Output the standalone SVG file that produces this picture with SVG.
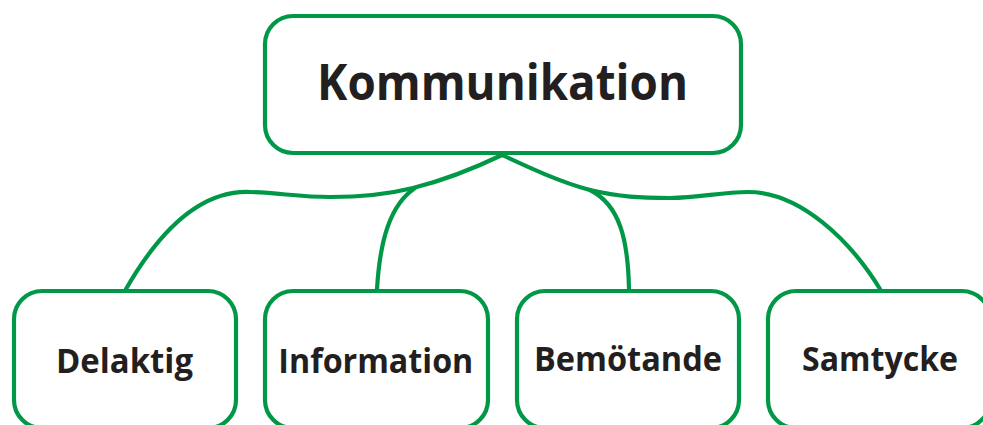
<svg xmlns="http://www.w3.org/2000/svg" width="983" height="425" viewBox="0 0 983 425">
<style>
.box{fill:#fff;stroke:#009846;stroke-width:4.2}
.con{fill:none;stroke:#009846;stroke-width:4.2;stroke-linecap:round}
.t{font-family:"Open Sans","Noto Sans","Liberation Sans",sans-serif;font-weight:700;fill:#231f20;text-anchor:middle}
.big{font-size:50px}
.small{font-size:34px}
</style>
<rect width="983" height="425" fill="#fff"/>
<g id="connectors">
<path class="con" d="M126,289 C160,230 200,190 250,192 C280,193 300,197 330,197 C370,197 393,193 413,188 C445,180 475,168 502,155"/>
<path class="con" d="M377,289 C380,240 390,205 415,188"/>
<path class="con" d="M502,155 C530,168 560,182 590,190 C620,197 640,198 670,198 C700,198 720,192 748,192 C800,192 850,240 880,289"/>
<path class="con" d="M629,289 C628,240 620,205 590,190"/>
</g>
<g id="kommunikation">
<rect class="box" x="265" y="16" width="476" height="137" rx="28"/>
<text class="t big" x="502.5" y="99.5" textLength="371" lengthAdjust="spacingAndGlyphs">Kommunikation</text>
</g>
<g id="delaktig">
<rect class="box" x="14" y="291" width="222" height="137" rx="28"/>
<text class="t small" x="124.5" y="372.5" textLength="137" lengthAdjust="spacingAndGlyphs">Delaktig</text>
</g>
<g id="information">
<rect class="box" x="265" y="291" width="223" height="137" rx="28"/>
<text class="t small" x="375.8" y="372.5" textLength="195" lengthAdjust="spacingAndGlyphs">Information</text>
</g>
<g id="bemotande">
<rect class="box" x="517" y="291" width="222" height="137" rx="28"/>
<text class="t small" x="628" y="370.5" textLength="188" lengthAdjust="spacingAndGlyphs">Bemötande</text>
</g>
<g id="samtycke">
<rect class="box" x="768" y="291" width="222" height="137" rx="28"/>
<text class="t small" x="880" y="370.5" textLength="156" lengthAdjust="spacingAndGlyphs">Samtycke</text>
</g>
</svg>
